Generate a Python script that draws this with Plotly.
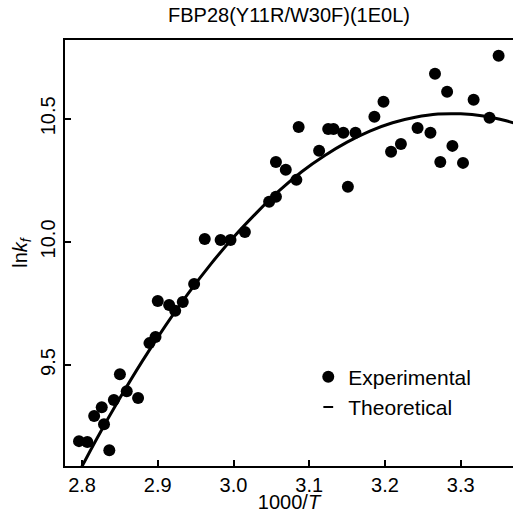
import plotly.graph_objects as go

exp_x = [2.796, 2.807, 2.816, 2.826, 2.829, 2.836, 2.842, 2.850, 2.859, 2.874,
         2.889, 2.897, 2.900, 2.915, 2.923, 2.933, 2.948, 2.962, 2.983, 2.996,
         3.015, 3.047, 3.056, 3.056, 3.069, 3.083, 3.086, 3.113, 3.125, 3.132,
         3.145, 3.151, 3.161, 3.186, 3.198, 3.208, 3.221, 3.243, 3.260, 3.266,
         3.273, 3.282, 3.289, 3.303, 3.317, 3.338, 3.350]
exp_y = [9.191, 9.187, 9.293, 9.329, 9.260, 9.154, 9.358, 9.463, 9.394, 9.366,
         9.589, 9.614, 9.760, 9.744, 9.720, 9.756, 9.829, 10.012, 10.008, 10.008,
         10.040, 10.163, 10.183, 10.325, 10.293, 10.252, 10.467, 10.370, 10.459, 10.459,
         10.443, 10.224, 10.443, 10.508, 10.569, 10.366, 10.398, 10.463, 10.443, 10.683,
         10.325, 10.610, 10.390, 10.321, 10.577, 10.504, 10.756]

theo_x = [2.79, 2.82, 2.85, 2.88, 2.91, 2.94, 2.97, 3.00, 3.03, 3.06, 3.09,
          3.12, 3.15, 3.18, 3.21, 3.24, 3.27, 3.30, 3.33, 3.36, 3.37]
theo_y = [9.030, 9.204, 9.366, 9.518, 9.659, 9.790, 9.910, 10.019, 10.117, 10.207, 10.285,
          10.350, 10.405, 10.450, 10.484, 10.506, 10.519, 10.520, 10.511, 10.492, 10.483]

x_ticks = [2.8, 2.9, 3.0, 3.1, 3.2, 3.3]
y_ticks = [9.5, 10.0, 10.5]

font = "Liberation Sans, Arial, sans-serif"

fig = go.Figure()
fig.add_trace(go.Scatter(x=theo_x, y=theo_y, mode="lines", line=dict(color="black", width=3, shape="spline"),
                         showlegend=False))
fig.add_trace(go.Scatter(x=exp_x, y=exp_y, mode="markers", name="Experimental",
                         marker=dict(color="black", size=12)))
fig.add_trace(go.Scatter(x=[None], y=[None], mode="markers", name="Theoretical",
                         marker=dict(color="black", size=7, symbol="line-ew-open", line=dict(width=2, color="black"))))

fig.update_layout(
    width=513, height=513,
    margin=dict(l=65, r=0, t=40, b=47, pad=0),
    plot_bgcolor="white", paper_bgcolor="white",
    font=dict(family=font, size=20, color="black"),
    title=dict(text="FBP28(Y11R/W30F)(1E0L)", x=(65 + 448 / 2) / 513, xanchor="center",
               y=1 - 15 / 513, yanchor="middle", font=dict(size=20)),
    xaxis=dict(range=[2.7775, 3.369], tickvals=x_ticks, ticktext=[f"{v:.1f}" for v in x_ticks],
               showline=True, linecolor="#000000", linewidth=2, mirror=True,
               ticks="inside", ticklen=6, tickwidth=2, tickcolor="#000000", showgrid=False, zeroline=False,
               title=dict(text="1000/<i>T</i>", standoff=0, font=dict(size=20)),
               tickfont=dict(size=20), automargin=False),
    yaxis=dict(range=[9.09, 10.82], tickvals=y_ticks, ticktext=[f"{v:.1f}" for v in y_ticks],
               showline=True, linecolor="#000000", linewidth=2, mirror=False,
               ticks="inside", ticklen=6, tickwidth=2, tickcolor="#000000", showgrid=False, zeroline=False,
               tickangle=-90, tickfont=dict(size=20), automargin=False,
               title=dict(text="ln<i>k<sub>f</sub></i>", standoff=4, font=dict(size=20))),
    legend=dict(x=0.543, y=0.257, xanchor="left", yanchor="top", bgcolor="rgba(0,0,0,0)",
                font=dict(size=21), tracegroupgap=0),
)

fig.write_html("out.html", post_script="document.body.style.margin='0';",
               config={"displayModeBar": False})
